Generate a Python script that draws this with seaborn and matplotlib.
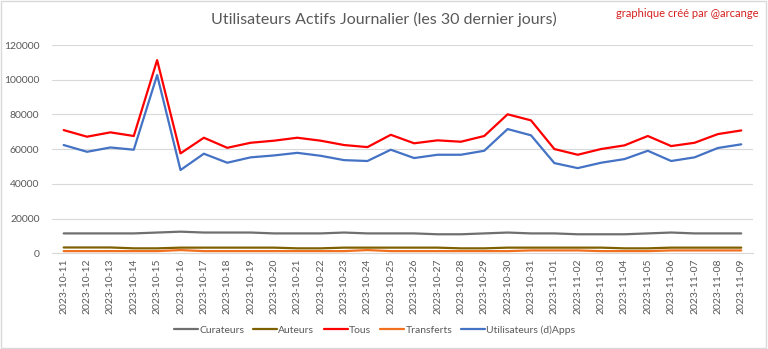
import matplotlib
matplotlib.use("Agg")
import matplotlib.pyplot as plt
import seaborn as sns
import pandas as pd
import numpy as np
from matplotlib.patches import Rectangle

dates = [
    "2023-10-11", "2023-10-12", "2023-10-13", "2023-10-14", "2023-10-15",
    "2023-10-16", "2023-10-17", "2023-10-18", "2023-10-19", "2023-10-20",
    "2023-10-21", "2023-10-22", "2023-10-23", "2023-10-24", "2023-10-25",
    "2023-10-26", "2023-10-27", "2023-10-28", "2023-10-29", "2023-10-30",
    "2023-10-31", "2023-11-01", "2023-11-02", "2023-11-03", "2023-11-04",
    "2023-11-05", "2023-11-06", "2023-11-07", "2023-11-08", "2023-11-09",
]

curateurs = [11500, 11500, 11500, 11500, 12000, 12500, 12000, 12000, 12000, 11500,
             11500, 11500, 12000, 11500, 11500, 11500, 11000, 11000, 11500, 12000,
             11500, 11500, 11000, 11000, 11000, 11500, 12000, 11500, 11500, 11500]
auteurs = [3400, 3400, 3400, 2900, 2900, 3300, 3300, 3300, 3300, 3300,
           2900, 2900, 3300, 3300, 3300, 3300, 3300, 2900, 2900, 3300,
           3300, 3300, 3300, 3300, 2900, 2900, 3300, 3300, 3300, 3300]
tous = [71000, 67200, 69700, 67600, 111300, 57600, 66600, 60800, 63700, 64900,
        66600, 64900, 62400, 61200, 68300, 63400, 65100, 64300, 67600, 80100,
        76600, 60100, 56800, 60100, 62200, 67600, 61800, 63700, 68700, 70800]
transferts = [1300, 1300, 1300, 1300, 1300, 1900, 1300, 1300, 1300, 1300,
              1300, 1300, 1300, 1900, 1300, 1300, 1300, 1300, 1300, 1300,
              1700, 1700, 1700, 1300, 1300, 1300, 1700, 1700, 1700, 1700]
utilisateurs_apps = [62400, 58500, 61000, 59700, 102700, 48000, 57400, 52200, 55300, 56400,
                     57900, 56200, 53700, 53200, 59700, 54900, 56800, 56800, 59100, 71600,
                     68000, 52000, 49100, 52200, 54300, 59100, 53200, 55300, 60700, 62800]

series_names = ["Curateurs", "Auteurs", "Tous", "Transferts", "Utilisateurs (d)Apps"]
series_values = [curateurs, auteurs, tous, transferts, utilisateurs_apps]
colors = ["#6F6F6F", "#7F6000", "#FF0000", "#F07020", "#4472C4"]
y_ticks = [0, 20000, 40000, 60000, 80000, 100000, 120000]

df = pd.DataFrame({
    "date": np.tile(dates, len(series_names)),
    "pos": np.tile(np.arange(len(dates)), len(series_names)),
    "serie": np.repeat(series_names, len(dates)),
    "valeur": np.concatenate(series_values),
})

sns.set_theme(style="white")
plt.rcParams["font.family"] = ["Lato", "DejaVu Sans"]

fig = plt.figure(figsize=(7.68, 3.49), dpi=100)
ax = fig.add_axes([0.0677, 0.274, 0.9127, 0.597])

sns.lineplot(data=df, x="pos", y="valeur", hue="serie", hue_order=series_names,
             palette=colors, linewidth=1.6, ax=ax, legend=False)

ax.set_xlim(-0.5, len(dates) - 0.5)
ax.set_ylim(0, 120000)
ax.set_yticks(y_ticks)
ax.set_yticklabels([str(v) for v in y_ticks])
ax.set_xticks(np.arange(len(dates)))
ax.set_xticklabels(dates, rotation=90)
ax.tick_params(axis="both", length=0, colors="#595959", labelsize=7.5)
ax.tick_params(axis="y", pad=9)
ax.tick_params(axis="x", pad=4)
ax.set_xlabel("")
ax.set_ylabel("")
ax.grid(axis="y", color="#D9D9D9", linewidth=0.8)
ax.set_axisbelow(True)
for s in ["top", "right", "left"]:
    ax.spines[s].set_visible(False)
ax.spines["bottom"].set_color("#D9D9D9")
ax.spines["bottom"].set_linewidth(0.8)

handles = [plt.Line2D([], [], color=c, linewidth=1.6) for c in colors]
fig.legend(handles, series_names, loc="center", bbox_to_anchor=(0.488, 0.055), ncol=5,
           frameon=False, fontsize=7.5, handlelength=2.3, handletextpad=0.1,
           columnspacing=0.9, labelcolor="#595959")

fig.text(0.5, 0.943, "Utilisateurs Actifs Journalier (les 30 dernier jours)",
         ha="center", va="center", fontsize=11.5, color="#595959")
fig.text(0.987, 0.962, "graphique créé par @arcange", ha="right", va="center",
         fontsize=8, color="#D42020")

fig.patches.append(Rectangle((0.001, 0.002), 0.997, 0.995, transform=fig.transFigure,
                             fill=False, edgecolor="#D9D9D9", linewidth=1))

fig.savefig("out.png", dpi=100)
